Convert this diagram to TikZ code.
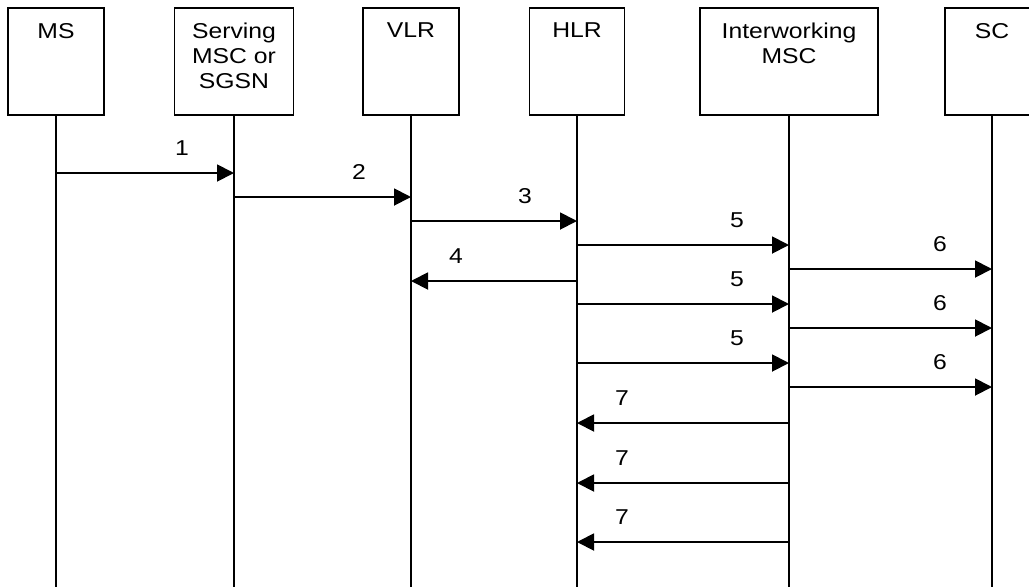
\documentclass[tikz,border=0pt]{standalone}
\usepackage{fontspec}
\setmainfont{Liberation Sans}[FakeStretch=1.15]
\usepackage{tikz}
\usetikzlibrary{arrows.meta, positioning}

\begin{document}
\begin{tikzpicture}[
  x=1pt, y=-1pt,
  font=\fontsize{21.5}{25}\selectfont,
  entity/.style={rectangle, draw, line width=1.6pt, minimum width=96pt, minimum height=107pt, inner sep=0pt, outer sep=0pt},
  boxtext/.style={anchor=north, yshift=-15pt, inner sep=0pt, align=center},
  life/.style={line width=1.6pt},
  msg/.style={-{Triangle[length=17pt, width=17pt]}, line width=1.9pt},
  msgnum/.style={inner sep=0pt},
]
\useasboundingbox (0,0) rectangle (1029,587);
\clip (0,0) rectangle (1029,587);

% ---- Entities ----
\node[entity] (ms) at (56, 61.5) {};
\node[boxtext] (mslbl) at (ms.north) {MS};

\node[entity, minimum width=119pt] (srv) at (234, 61.5) {};
\node[boxtext] (srvlbl) at (srv.north) {Serving\\MSC or\\SGSN};

\node[entity] (vlr) at (411, 61.5) {};
\node[boxtext] (vlrlbl) at (vlr.north) {VLR};

\node[entity, minimum width=95pt] (hlr) at (577, 61.5) {};
\node[boxtext] (hlrlbl) at (hlr.north) {HLR};

\node[entity, minimum width=178pt] (iwm) at (789, 61.5) {};
\node[boxtext] (iwmlbl) at (iwm.north) {Interworking\\MSC};

\node[entity, minimum width=94pt] (sc) at (992, 61.5) {};
\node[boxtext] (sclbl) at (sc.north) {SC};

% ---- Lifelines ----
\foreach \b in {ms, srv, vlr, hlr, iwm, sc}
  \draw[life] (\b.south) -- (\b.south |- 0,587);

% ---- Messages: left to right ----
\foreach \src/\dst/\y/\num in {ms/srv/173/1, srv/vlr/197/2, vlr/hlr/221/3,
    hlr/iwm/245/5, iwm/sc/269/6, hlr/iwm/304/5, iwm/sc/328/6,
    hlr/iwm/363/5, iwm/sc/387/6}
  \draw[msg] (\src.south |- 0,\y) -- (\dst.south |- 0,\y)
    node[msgnum, xshift=-52pt, yshift=25pt] {\num};

% ---- Messages: right to left ----
\foreach \src/\dst/\y/\num in {hlr/vlr/281/4, iwm/hlr/423/7,
    iwm/hlr/483/7, iwm/hlr/542/7}
  \draw[msg] (\src.south |- 0,\y) -- (\dst.south |- 0,\y)
    node[msgnum, xshift=45pt, yshift=25pt] {\num};

\end{tikzpicture}
\end{document}
